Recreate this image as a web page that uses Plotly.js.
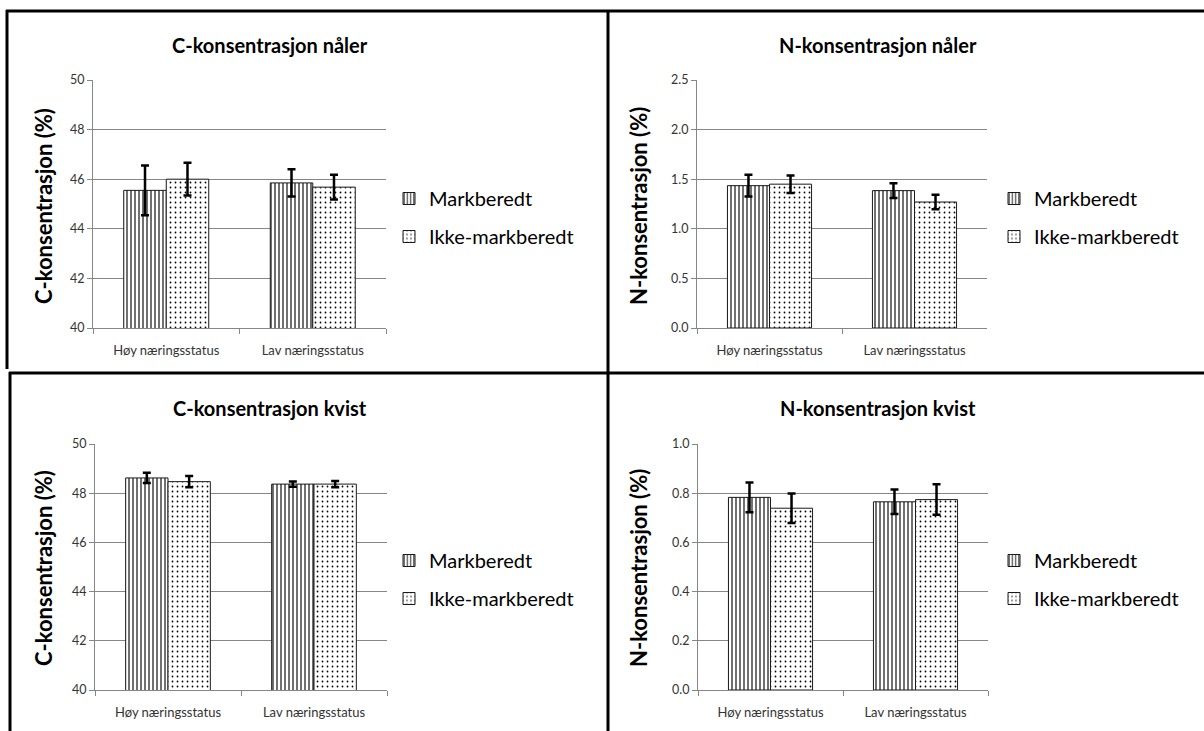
<!DOCTYPE html>
<html>
<head>
<meta charset="utf-8">
<script src="https://cdn.plot.ly/plotly-3.0.1.min.js"></script>
<style>
html,body{margin:0;padding:0;background:#fff;}
#chart{width:1204px;height:731px;}
</style>
</head>
<body>
<div id="chart"></div>
<script>
// ---- data ----
const categories = ['Høy næringsstatus', 'Lav næringsstatus'];
const seriesNames = ['Markberedt', 'Ikke-markberedt'];

const cNalerMark = [45.55, 45.85];
const cNalerMarkErr = [1.0, 0.55];
const cNalerIkke = [46.0, 45.68];
const cNalerIkkeErr = [0.66, 0.5];

const nNalerMark = [1.435, 1.385];
const nNalerMarkErr = [0.11, 0.075];
const nNalerIkke = [1.45, 1.27];
const nNalerIkkeErr = [0.088, 0.074];

const cKvistMark = [48.62, 48.37];
const cKvistMarkErr = [0.21, 0.11];
const cKvistIkke = [48.47, 48.37];
const cKvistIkkeErr = [0.23, 0.13];

const nKvistMark = [0.783, 0.765];
const nKvistMarkErr = [0.06, 0.05];
const nKvistIkke = [0.739, 0.774];
const nKvistIkkeErr = [0.06, 0.062];

const panelTitles = ['C-konsentrasjon nåler', 'N-konsentrasjon nåler', 'C-konsentrasjon kvist', 'N-konsentrasjon kvist'];
const yTitles = ['C-konsentrasjon (%)', 'N-konsentrasjon (%)', 'C-konsentrasjon (%)', 'N-konsentrasjon (%)'];
const yRanges = [[40, 50], [0, 2.5], [40, 50], [0, 1.0]];
const yDticks = [2, 0.5, 2, 0.2];
const yFormats = ['d', '.1f', 'd', '.1f'];

// ---- layout helpers ----
const W = 1204, H = 731;
const px = x => x / W;
const py = y => 1 - y / H;
const FONT = 'Lato, Carlito, "Open Sans", sans-serif';

const panels = [
  {dx: [93, 386], dy: [80, 328], title: [270, 45], ytitle: [43, 206], legend: [389, 179]},
  {dx: [697, 987], dy: [80, 328], title: [878, 45], ytitle: [638, 206], legend: [994, 179]},
  {dx: [95, 387], dy: [444, 690], title: [270, 408], ytitle: [43, 568], legend: [389, 541]},
  {dx: [698, 988], dy: [444, 690], title: [878, 408], ytitle: [638, 568], legend: [994, 541]}
];

const dataSets = [
  [[cNalerMark, cNalerMarkErr], [cNalerIkke, cNalerIkkeErr]],
  [[nNalerMark, nNalerMarkErr], [nNalerIkke, nNalerIkkeErr]],
  [[cKvistMark, cKvistMarkErr], [cKvistIkke, cKvistIkkeErr]],
  [[nKvistMark, nKvistMarkErr], [nKvistIkke, nKvistIkkeErr]]
];

const patterns = [
  {shape: '|', fgcolor: '#000', bgcolor: '#fff', size: 4, solidity: 0.28, fillmode: 'replace'},
  {shape: '.', fgcolor: '#000', bgcolor: '#fff', size: 5, solidity: 0.1, fillmode: 'replace'}
];

const traces = [];
const layout = {
  width: W, height: H,
  margin: {l: 0, r: 0, t: 0, b: 0},
  paper_bgcolor: '#fff', plot_bgcolor: 'rgba(0,0,0,0)',
  barmode: 'group', bargap: 0.42, bargroupgap: 0,
  font: {family: FONT, color: '#000'},
  showlegend: true,
  annotations: [], shapes: []
};

panels.forEach((p, i) => {
  const n = i === 0 ? '' : String(i + 1);
  const xa = 'xaxis' + n, ya = 'yaxis' + n;
  const legendName = 'legend' + n;
  dataSets[i].forEach((s, j) => {
    traces.push({
      type: 'bar',
      name: seriesNames[j],
      x: categories,
      y: s[0],
      xaxis: 'x' + n, yaxis: 'y' + n,
      legend: legendName,
      legendgroup: 'g' + i + '_' + j,
      marker: {color: '#fff', pattern: patterns[j], line: {color: '#1a1a1a', width: 1}},
      error_y: {type: 'data', array: s[1], visible: true, color: '#000', thickness: 2.5, width: 4},
      hoverinfo: 'y+name'
    });
  });
  layout[xa] = {
    domain: [px(p.dx[0]), px(p.dx[1])],
    anchor: 'y' + n,
    type: 'category',
    showline: true, linecolor: '#868686', linewidth: 1,
    ticks: 'outside', ticklen: 5, tickcolor: '#868686', tickson: 'boundaries',
    tickfont: {family: FONT, size: 13, color: '#333'},
    ticklabelstandoff: 10,
    showgrid: false, zeroline: false, fixedrange: true
  };
  layout[ya] = {
    domain: [py(p.dy[1]), py(p.dy[0])],
    anchor: 'x' + n,
    range: yRanges[i], dtick: yDticks[i], tick0: 0, tickformat: yFormats[i],
    showline: true, linecolor: '#868686', linewidth: 1,
    ticks: 'outside', ticklen: 5, tickcolor: '#868686',
    tickfont: {family: FONT, size: 12.5, color: '#333'},
    showgrid: true, gridcolor: '#868686', gridwidth: 1,
    zeroline: false, fixedrange: true
  };
  layout[legendName] = {
    x: px(p.legend[0]), y: py(p.legend[1]), xanchor: 'left', yanchor: 'top',
    font: {family: FONT, size: 20, color: '#000'},
    traceorder: 'grouped', tracegroupgap: 9,
    bgcolor: 'rgba(0,0,0,0)', borderwidth: 0
  };
  layout.annotations.push({
    text: '<b>' + panelTitles[i] + '</b>', xref: 'paper', yref: 'paper',
    x: px(p.title[0]), y: py(p.title[1]), xanchor: 'center', yanchor: 'middle',
    showarrow: false, font: {family: FONT, size: 20, color: '#000'}
  });
  layout.annotations.push({
    text: '<b>' + yTitles[i] + '</b>', xref: 'paper', yref: 'paper',
    x: px(p.ytitle[0]), y: py(p.ytitle[1]), xanchor: 'center', yanchor: 'middle',
    textangle: -90, showarrow: false, font: {family: FONT, size: 22, color: '#000'}
  });
});

// panel borders
const border = (x0, y0, x1, y1) => ({
  type: 'line', xref: 'paper', yref: 'paper',
  x0: px(x0), y0: py(y0), x1: px(x1), y1: py(y1),
  line: {color: '#000', width: 3}
});
layout.shapes.push(border(6, 11, 1204, 11));
layout.shapes.push(border(7, 10, 7, 369));
layout.shapes.push(border(608, 10, 608, 731));
layout.shapes.push(border(9, 373, 1204, 373));
layout.shapes.push(border(10, 372, 10, 731));

Plotly.newPlot('chart', traces, layout, {displayModeBar: false, staticPlot: true});
</script>
</body>
</html>
